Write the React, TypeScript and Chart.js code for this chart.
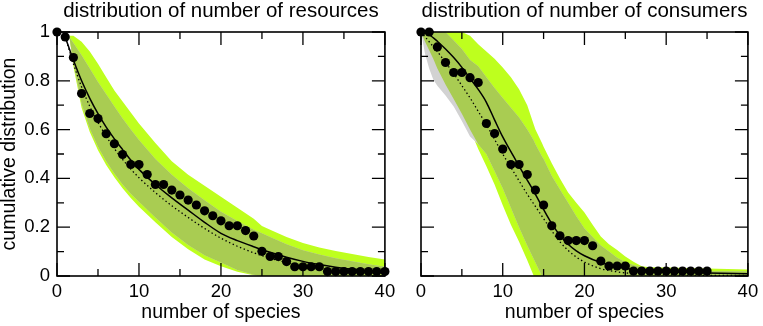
import React, { useEffect, useRef } from "react";
import { Chart, registerables } from "chart.js";

Chart.register(...registerables);

const FONT = "'Liberation Sans', Arial, Helvetica, sans-serif";
const LIME = "rgb(190,255,30)";
const GREY = "rgb(210,210,210)";
const OLIVE = "rgb(169,204,82)";

// ticks
const X_TICKS = [0, 10, 20, 30, 40];
const X_MINOR = [5, 15, 25, 35];
const Y_TICKS = [0, 0.2, 0.4, 0.6, 0.8, 1];
const Y_MINOR = [0.1, 0.3, 0.5, 0.7, 0.9];
const Y_TICK_LABELS = ["0", "0.2", "0.4", "0.6", "0.8", "1"];

const TITLE_RES = "distribution of number of resources";
const TITLE_CON = "distribution of number of consumers";
const X_LABEL = "number of species";
const Y_LABEL = "cumulative distribution";

// ---------- left panel: resources ----------
const resObsX = [0, 1, 2, 3, 4, 5, 6, 7, 8, 9, 10, 11, 12, 13, 14, 15, 16, 17, 18, 19, 20, 21, 22, 23, 24, 25, 26, 27, 28, 29, 30, 31, 32, 33, 34, 35, 36, 37, 38, 39, 40];
const resObsY = [1.0, 0.98, 0.895, 0.748, 0.666, 0.645, 0.583, 0.542, 0.498, 0.457, 0.457, 0.416, 0.375, 0.375, 0.352, 0.332, 0.311, 0.291, 0.267, 0.247, 0.226, 0.206, 0.206, 0.186, 0.164, 0.101, 0.08, 0.08, 0.059, 0.038, 0.038, 0.038, 0.038, 0.018, 0.018, 0.018, 0.018, 0.018, 0.018, 0.018, 0.018];
const resFitX = [1, 2, 3, 4, 5, 6, 7, 8, 9, 10, 12, 14, 16, 18, 20, 22, 24, 26, 28, 30, 32, 34, 36, 38, 40];
const resFitY = [0.98, 0.885, 0.8, 0.728, 0.665, 0.61, 0.562, 0.518, 0.475, 0.437, 0.375, 0.32, 0.27, 0.22, 0.175, 0.145, 0.12, 0.097, 0.077, 0.06, 0.047, 0.036, 0.028, 0.022, 0.017];
const resNullY = [0.98, 0.87, 0.775, 0.695, 0.63, 0.573, 0.522, 0.478, 0.438, 0.403, 0.342, 0.288, 0.24, 0.195, 0.155, 0.122, 0.095, 0.073, 0.055, 0.041, 0.031, 0.023, 0.017, 0.013, 0.01];
const resBandX = [1.5, 2, 3, 4, 5, 6, 7, 8, 9, 10, 12, 14, 16, 18, 20, 22, 24, 25, 26, 28, 30, 32, 34, 36, 38, 40];
const resGreenUpper = [0.985, 0.985, 0.96, 0.92, 0.87, 0.815, 0.76, 0.715, 0.67, 0.625, 0.545, 0.47, 0.415, 0.37, 0.325, 0.28, 0.235, 0.205, 0.19, 0.16, 0.135, 0.117, 0.102, 0.09, 0.078, 0.068];
const resGreenLower = [0.985, 0.86, 0.69, 0.59, 0.515, 0.455, 0.405, 0.36, 0.32, 0.284, 0.22, 0.16, 0.11, 0.068, 0.04, 0.017, 0.003, 0, 0, 0, 0, 0, 0, 0, 0, 0];
const resGreyUpper = [0.98, 0.955, 0.905, 0.85, 0.795, 0.745, 0.695, 0.645, 0.6, 0.557, 0.48, 0.415, 0.36, 0.31, 0.263, 0.225, 0.19, 0.175, 0.16, 0.13, 0.106, 0.088, 0.073, 0.06, 0.048, 0.038];
const resGreyLower = [0.98, 0.875, 0.705, 0.605, 0.53, 0.47, 0.42, 0.375, 0.337, 0.304, 0.24, 0.178, 0.127, 0.085, 0.055, 0.025, 0.005, 0, 0, 0, 0, 0, 0, 0, 0, 0];

// ---------- right panel: consumers ----------
const conObsX = [0, 1, 2, 3, 4, 5, 6, 7, 8, 9, 10, 11, 12, 13, 14, 15, 16, 17, 18, 19, 20, 21, 22, 23, 24, 25, 26, 27, 28, 29, 30, 31, 32, 33, 34, 35];
const conObsY = [1.0, 1.0, 0.939, 0.875, 0.834, 0.834, 0.813, 0.793, 0.625, 0.584, 0.52, 0.457, 0.457, 0.416, 0.352, 0.291, 0.206, 0.165, 0.145, 0.145, 0.145, 0.124, 0.061, 0.041, 0.041, 0.041, 0.02, 0.02, 0.02, 0.02, 0.02, 0.02, 0.02, 0.02, 0.02, 0.02];
const conFitX = [0, 1, 2, 3, 4, 5, 6, 7, 8, 9, 10, 11, 12, 13, 14, 15, 16, 17, 18, 19, 20, 22, 24, 26, 28, 30, 35, 40];
const conFitY = [1, 0.988, 0.962, 0.93, 0.895, 0.855, 0.81, 0.765, 0.712, 0.64, 0.57, 0.51, 0.45, 0.393, 0.335, 0.273, 0.215, 0.167, 0.13, 0.103, 0.083, 0.055, 0.037, 0.027, 0.021, 0.017, 0.012, 0.009];
const conNullY = [1, 0.96, 0.92, 0.875, 0.83, 0.78, 0.73, 0.675, 0.62, 0.56, 0.5, 0.445, 0.39, 0.335, 0.285, 0.235, 0.185, 0.14, 0.105, 0.078, 0.057, 0.03, 0.017, 0.01, 0.007, 0.005, 0.003, 0.002];
const conBandX = [0, 0.5, 1, 1.5, 2, 3, 4, 5, 6, 7, 8, 9, 10, 11, 12, 13, 13.8, 14, 14.8, 15, 16, 17, 18, 19, 20, 21, 22, 23, 24, 25, 26, 27, 28, 30, 35, 40];
const conGreenUpper = [1, 1, 1, 1, 1, 1, 1, 1, 0.985, 0.95, 0.92, 0.89, 0.855, 0.815, 0.765, 0.7, 0.62, 0.6, 0.545, 0.53, 0.462, 0.4, 0.342, 0.3, 0.26, 0.21, 0.162, 0.13, 0.107, 0.08, 0.058, 0.04, 0.036, 0.035, 0.031, 0.027];
const conGreenLower = [1, 0.96, 0.925, 0.89, 0.85, 0.785, 0.725, 0.665, 0.6, 0.52, 0.45, 0.375, 0.29, 0.21, 0.14, 0.065, 0, 0, 0, 0, 0, 0, 0, 0, 0, 0, 0, 0, 0, 0, 0, 0, 0, 0, 0, 0];
const conGreyUpper = [1, 1, 1, 1, 1, 1, 0.965, 0.93, 0.885, 0.86, 0.815, 0.77, 0.73, 0.69, 0.65, 0.6, 0.555, 0.54, 0.49, 0.48, 0.41, 0.355, 0.3, 0.245, 0.195, 0.16, 0.125, 0.1, 0.075, 0.057, 0.045, 0.036, 0.03, 0.025, 0.02, 0.018];
const conGreyLower = [1, 0.91, 0.85, 0.805, 0.78, 0.74, 0.695, 0.635, 0.572, 0.54, 0.5, 0.43, 0.36, 0.28, 0.2, 0.125, 0.07, 0.055, 0, 0, 0, 0, 0, 0, 0, 0, 0, 0, 0, 0, 0, 0, 0, 0, 0, 0];

type PanelData = {
  title: string;
  obsX: number[]; obsY: number[];
  fitX: number[]; fitY: number[]; nullY: number[];
  bandX: number[];
  greenUpper: number[]; greenLower: number[];
  greyUpper: number[]; greyLower: number[];
  showYLabels: boolean;
  yWidth: number;
};

const pts = (xs: number[], ys: number[]) => xs.map((x, i) => ({ x, y: ys[i] }));

const frameTicks = {
  id: "frameTicks",
  afterDatasetsDraw(chart: any) {
    const { ctx, chartArea: a, scales } = chart;
    const x = scales.x, y = scales.y;
    const MAJ = 13, MIN = 7;
    ctx.save();
    ctx.strokeStyle = "#000";
    ctx.lineWidth = 1.3;
    ctx.beginPath();
    const vx = (v: number, len: number) => {
      const p = x.getPixelForValue(v);
      ctx.moveTo(p, a.bottom); ctx.lineTo(p, a.bottom - len);
      ctx.moveTo(p, a.top); ctx.lineTo(p, a.top + len);
    };
    const vy = (v: number, len: number) => {
      const p = y.getPixelForValue(v);
      ctx.moveTo(a.left, p); ctx.lineTo(a.left + len, p);
      ctx.moveTo(a.right, p); ctx.lineTo(a.right - len, p);
    };
    X_TICKS.forEach((v) => vx(v, MAJ));
    X_MINOR.forEach((v) => vx(v, MIN));
    Y_TICKS.forEach((v) => vy(v, MAJ));
    Y_MINOR.forEach((v) => vy(v, MIN));
    ctx.stroke();
    ctx.lineWidth = 1.6;
    ctx.strokeRect(a.left, a.top, a.right - a.left, a.bottom - a.top);
    ctx.restore();
  },
};

function Panel({ d, width }: { d: PanelData; width: number }) {
  const ref = useRef<HTMLCanvasElement | null>(null);
  useEffect(() => {
    if (!ref.current) return;
    const overlapUpper = d.greyUpper.map((v, i) => Math.min(v, d.greenUpper[i]));
    const overlapLower = d.greyLower.map((v, i) => Math.min(Math.max(v, d.greenLower[i]), overlapUpper[i]));
    const edge = { borderColor: "transparent", borderWidth: 0, pointRadius: 0, tension: 0 };
    const datasets: any[] = [
      { data: pts(d.obsX, d.obsY), showLine: false, pointRadius: 4.6, pointBackgroundColor: "#000", pointBorderWidth: 0, pointBorderColor: "#000", clip: false, order: 0 },
      { data: pts(d.fitX, d.fitY), borderColor: "#000", borderWidth: 1.5, pointRadius: 0, cubicInterpolationMode: "monotone", fill: false, order: 1 },
      { data: pts(d.fitX, d.nullY), borderColor: "#000", borderWidth: 1.3, borderDash: [1.4, 2.6], pointRadius: 0, cubicInterpolationMode: "monotone", fill: false, order: 2 },
      { ...edge, data: pts(d.bandX, d.greenLower), fill: false, order: 10 },
      { ...edge, data: pts(d.bandX, d.greenUpper), fill: 3, backgroundColor: LIME, order: 9 },
      { ...edge, data: pts(d.bandX, d.greyLower), fill: false, order: 8 },
      { ...edge, data: pts(d.bandX, d.greyUpper), fill: 5, backgroundColor: GREY, order: 7 },
      { ...edge, data: pts(d.bandX, overlapLower), fill: false, order: 6 },
      { ...edge, data: pts(d.bandX, overlapUpper), fill: 7, backgroundColor: OLIVE, order: 5 },
    ];
    const chart = new Chart(ref.current, {
      type: "line",
      data: { datasets },
      plugins: [frameTicks],
      options: {
        responsive: false,
        animation: false,
        events: [],
        layout: { padding: { left: 0, right: 12, top: 0, bottom: 0 } },
        plugins: {
          legend: { display: false },
          tooltip: { enabled: false },
          title: {
            display: true,
            text: d.title,
            fullSize: false,
            color: "#000",
            font: { family: FONT, size: 20.5, weight: "normal", lineHeight: 1.1 },
            padding: { top: 0, bottom: 9.45 },
          },
        },
        scales: {
          x: {
            type: "linear",
            min: 0,
            max: 40,
            grid: { display: false, drawTicks: false },
            border: { display: false },
            afterBuildTicks: (s: any) => { s.ticks = X_TICKS.map((v) => ({ value: v })); },
            afterFit: (s: any) => { s.height = 50; },
            ticks: { color: "#000", font: { family: FONT, size: 18.5 }, padding: 4.8, maxRotation: 0, autoSkip: false },
            title: { display: true, text: X_LABEL, color: "#000", font: { family: FONT, size: 19.5, lineHeight: 1 }, padding: { top: 0, bottom: 3.75 } },
          },
          y: {
            type: "linear",
            min: 0,
            max: 1,
            grid: { display: false, drawTicks: false },
            border: { display: false },
            afterBuildTicks: (s: any) => { s.ticks = Y_TICKS.map((v) => ({ value: v })); },
            afterFit: (s: any) => { s.width = d.yWidth; },
            ticks: {
              display: d.showYLabels,
              color: "#000",
              font: { family: FONT, size: 18.5 },
              padding: 7,
              callback: (v: any) => Y_TICK_LABELS[Y_TICKS.indexOf(Number(v))] ?? String(v),
            },
            title: { display: d.showYLabels, text: Y_LABEL, color: "#000", font: { family: FONT, size: 19.5, lineHeight: 1 }, padding: { top: 0, bottom: 0 } },
          },
        },
      } as any,
    });
    return () => chart.destroy();
  }, [d]);
  return <canvas ref={ref} width={width} height={326} style={{ display: "block", width, height: 326 }} />;
}

const LEFT: PanelData = {
  title: TITLE_RES,
  obsX: resObsX, obsY: resObsY,
  fitX: resFitX, fitY: resFitY, nullY: resNullY,
  bandX: resBandX,
  greenUpper: resGreenUpper, greenLower: resGreenLower,
  greyUpper: resGreyUpper, greyLower: resGreyLower,
  showYLabels: true,
  yWidth: 57,
};

const RIGHT: PanelData = {
  title: TITLE_CON,
  obsX: conObsX, obsY: conObsY,
  fitX: conFitX, fitY: conFitY, nullY: conNullY,
  bandX: conBandX,
  greenUpper: conGreenUpper, greenLower: conGreenLower,
  greyUpper: conGreyUpper, greyLower: conGreyLower,
  showYLabels: false,
  yWidth: 21,
};

export default function App() {
  return (
    <div style={{ position: "fixed", left: 0, top: 0, width: 763, height: 326, background: "#fff", display: "flex" }}>
      <Panel d={LEFT} width={400} />
      <Panel d={RIGHT} width={363} />
    </div>
  );
}
